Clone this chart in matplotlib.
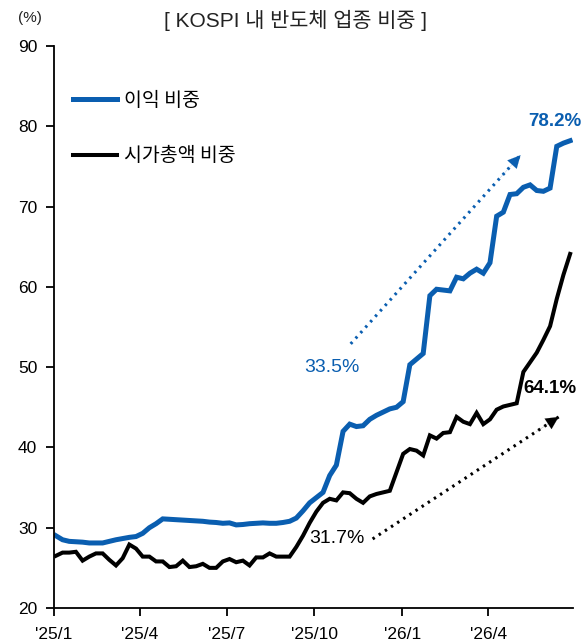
import numpy as np
import pandas as pd
import matplotlib
matplotlib.use("Agg")
import matplotlib.pyplot as plt
import matplotlib.dates as mdates

# KOSPI semiconductor sector weight (%), weekly
dates = pd.date_range("2025-01-03", periods=78, freq="7D")

earnings_share = [
    29.0, 28.5, 28.3, 28.25, 28.2, 28.1, 28.1, 28.1, 28.3, 28.5,
    28.65, 28.8, 28.9, 29.3, 30.0, 30.5, 31.1, 31.05, 31.0, 30.95,
    30.9, 30.85, 30.8, 30.7, 30.65, 30.55, 30.6, 30.35, 30.4, 30.5,
    30.55, 30.6, 30.55, 30.55, 30.65, 30.8, 31.2, 32.1, 33.1, 33.75,
    34.4, 36.5, 37.8, 42.0, 42.9, 42.6, 42.7, 43.5, 44.0, 44.4,
    44.8, 45.0, 45.7, 50.3, 51.0, 51.7, 58.9, 59.7, 59.6, 59.5,
    61.2, 61.0, 61.7, 62.2, 61.7, 63.0, 68.8, 69.3, 71.5, 71.6,
    72.4, 72.7, 72.0, 71.9, 72.3, 77.5, 77.9, 78.2,
]

mktcap_share = [
    26.5, 26.9, 26.9, 27.0, 25.9, 26.4, 26.8, 26.8, 26.0, 25.3,
    26.2, 27.9, 27.4, 26.4, 26.4, 25.8, 25.8, 25.1, 25.2, 25.9,
    25.1, 25.2, 25.5, 25.0, 25.0, 25.8, 26.1, 25.7, 25.9, 25.3,
    26.3, 26.3, 26.8, 26.4, 26.4, 26.4, 27.6, 29.0, 30.6, 32.0,
    33.1, 33.6, 33.4, 34.4, 34.3, 33.6, 33.1, 33.9, 34.2, 34.4,
    34.6, 36.9, 39.2, 39.8, 39.6, 39.0, 41.5, 41.1, 41.8, 41.9,
    43.8, 43.2, 42.9, 44.3, 42.9, 43.5, 44.7, 45.1, 45.3, 45.5,
    49.4, 50.6, 51.8, 53.4, 55.1, 58.5, 61.5, 64.1,
]

tick_dates = ["2025-01-01", "2025-04-01", "2025-07-01", "2025-10-01", "2026-01-01", "2026-04-01"]
tick_labels = ["'25/1", "'25/4", "'25/7", "'25/10", "'26/1", "'26/4"]

series_names = ["이익 비중", "시가총액 비중"]

blue = "#0A5EB0"

plt.rcParams["font.family"] = ["Liberation Sans", "Noto Sans CJK KR", "DejaVu Sans"]

fig = plt.figure(figsize=(5.81, 6.44), dpi=100)
ax = fig.add_axes([0.0929, 0.0559, 0.8933, 0.8727])

ax.plot(dates, earnings_share, color=blue, lw=3.6, solid_joinstyle="miter", label=series_names[0])
ax.plot(dates, mktcap_share, color="black", lw=2.9, solid_joinstyle="miter", label=series_names[1])

ax.set_ylim(20, 90)
ax.set_yticks(range(20, 91, 10))
ax.set_xlim(pd.Timestamp("2025-01-01"), pd.Timestamp("2026-06-29"))
ax.set_xticks(pd.to_datetime(tick_dates))
ax.set_xticklabels(tick_labels)

for s in ["top", "right"]:
    ax.spines[s].set_visible(False)
for s in ["left", "bottom"]:
    ax.spines[s].set_linewidth(1.3)
ax.tick_params(axis="y", direction="out", length=6, width=1.3, labelsize=12.5, pad=6)
ax.tick_params(axis="x", direction="out", length=6, width=1.3, labelsize=12.5, pad=8)

# trend arrows (dotted shaft + solid head)
def trend_arrow(start, end, color):
    x0, x1 = pd.Timestamp(start[0]), pd.Timestamp(end[0])
    ax.plot([x0, x1], [start[1], end[1]], color=color, lw=2.2, ls=(0, (0.8, 1.6)))
    xm = x0 + (x1 - x0) * 0.88
    ym = start[1] + (end[1] - start[1]) * 0.88
    ax.annotate("", xy=(x1, end[1]), xytext=(xm, ym),
                arrowprops=dict(arrowstyle="-|>,head_length=0.9,head_width=0.45",
                                color=color, lw=0.1, shrinkA=0, shrinkB=0))

trend_arrow(("2025-11-08", 52.9), ("2026-05-05", 76.4), blue)
trend_arrow(("2025-12-01", 28.6), ("2026-06-14", 43.8), "black")

ax.text(pd.Timestamp("2025-10-19"), 49.9, "33.5%", color=blue, fontsize=14, ha="center", va="center")
ax.text(pd.Timestamp("2025-10-25"), 28.7, "31.7%", color="black", fontsize=14, ha="center", va="center")
ax.text(pd.Timestamp("2026-06-10"), 80.6, "78.2%", color=blue, fontsize=13.5, fontweight="bold",
        ha="center", va="center", clip_on=False)
ax.text(pd.Timestamp("2026-07-03"), 47.4, "64.1%", color="black", fontsize=13.5, fontweight="bold",
        ha="right", va="center", clip_on=False)

leg = ax.legend(loc="upper left", bbox_to_anchor=(0.021, 0.935), frameon=False, fontsize=14,
                handlelength=2.3, handletextpad=0.35, labelspacing=1.75, borderaxespad=0)
for t in leg.get_texts():
    t.set_family(["Noto Sans CJK KR", "DejaVu Sans"])

fig.text(0.508, 0.968, "[ KOSPI 내 반도체 업종 비중 ]", ha="center", va="center", fontsize=15,
         family=["Liberation Sans", "Noto Sans CJK KR"], color="#222222")
fig.text(0.052, 0.972, "(%)", ha="center", va="center", fontsize=11, color="#222222")

fig.savefig("out.png", dpi=100)
